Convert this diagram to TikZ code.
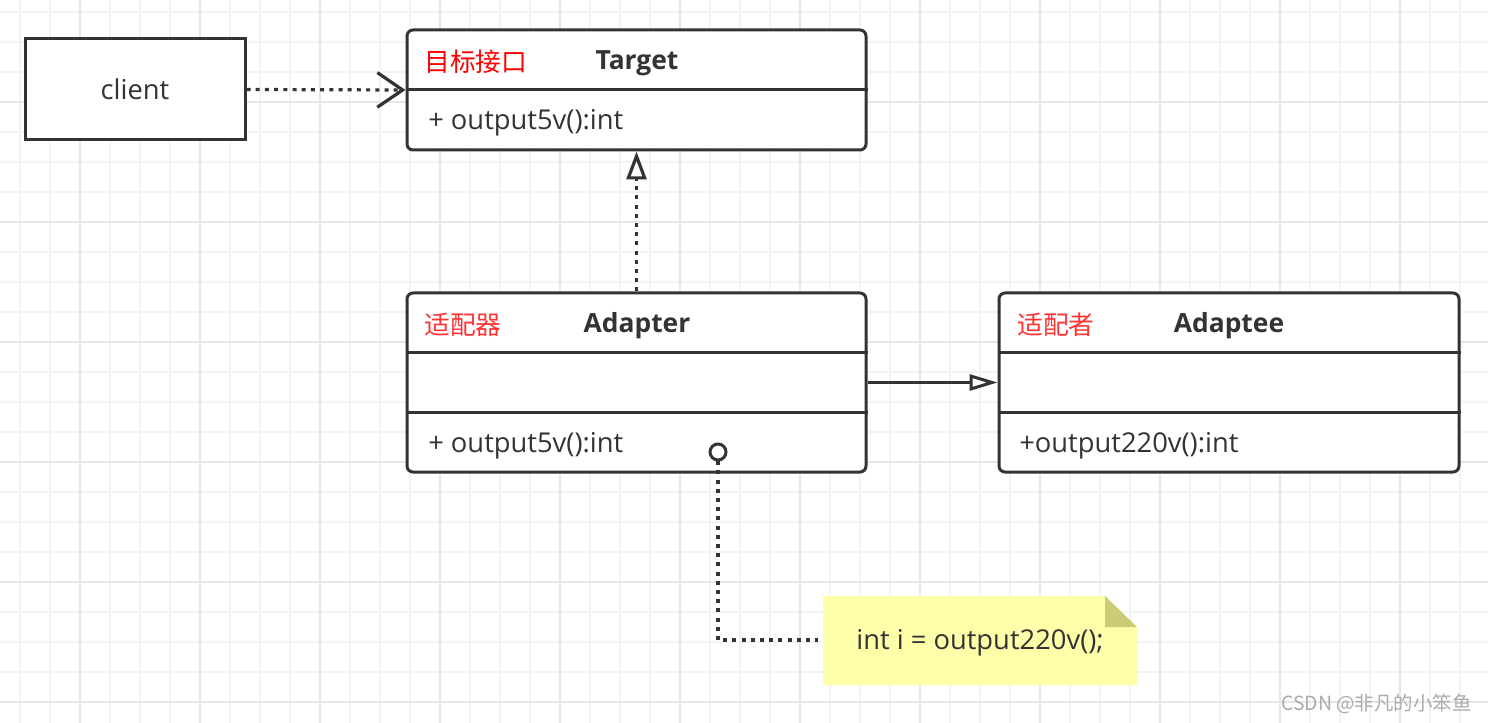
\documentclass[tikz,border=0pt]{standalone}
\usepackage{fontspec}
\setmainfont{Open Sans}
\newfontfamily\cjk{Noto Sans CJK SC}
\usetikzlibrary{arrows.meta}

\definecolor{inkgray}{HTML}{333333}
\definecolor{gridminor}{HTML}{F3F3F3}
\definecolor{gridmajor}{HTML}{E6E6E6}
\definecolor{notefill}{HTML}{FFFFAA}
\definecolor{notefold}{HTML}{CCCC77}
\definecolor{cnred}{HTML}{FF0000}
\definecolor{cnredsoft}{HTML}{FF3333}
\definecolor{markgray}{HTML}{ABABAB}

\begin{document}
\begin{tikzpicture}[x=0.75pt,y=-0.75pt,
    font=\fontsize{20.5}{24}\selectfont,
    plainbox/.style={draw=inkgray,line width=2.25pt,fill=white,inner sep=0pt,text=inkgray},
    classbox/.style={plainbox,rounded corners=4.5pt},
    divider/.style={draw=inkgray,line width=2.25pt},
    cnname/.style={anchor=west,inner sep=0pt,font=\cjk\fontsize{19.3}{23}\selectfont},
    enname/.style={inner sep=0pt,font=\bfseries\fontsize{19.8}{23}\selectfont,text=inkgray},
    member/.style={anchor=west,inner sep=0pt,text=inkgray},
    dep/.style={draw=inkgray,line width=2.4pt,dash pattern=on 3pt off 3.9pt},
    assoc/.style={draw=inkgray,line width=2.25pt}]
    \useasboundingbox (0,0) rectangle (1488,723);
    \fill[white] (0,0) rectangle (1488,723);

    % grid
    \foreach \gx in {20,50,...,1480} \draw[gridminor,line width=1.5pt] (\gx,0) -- (\gx,723);
    \foreach \gy in {12,42,...,720} \draw[gridminor,line width=1.5pt] (0,\gy) -- (1488,\gy);
    \foreach \gx in {80,200,...,1480} \draw[gridmajor,line width=1.5pt] (\gx,0) -- (\gx,723);
    \foreach \gy in {102,222,...,720} \draw[gridmajor,line width=1.5pt] (0,\gy) -- (1488,\gy);

    % client
    \node[plainbox,minimum width=165pt,minimum height=75.75pt] (client) at (135,89.5) {client};

    % Target
    \node[classbox,minimum width=344.25pt,minimum height=90pt] (target) at (636.5,90) {};
    \draw[divider] (target.west) -- (target.east);
    \node[cnname,text=cnred] (targetcn) at (424,62) {目标接口};
    \node[enname] (targetname) at (637,63) {Target};
    \node[member] (targetop) at (428,123) {+ output5v():int};

    % Adapter
    \node[classbox,minimum width=344.25pt,minimum height=134.25pt] (adapter) at (636.5,382.5) {};
    \draw[divider] ([yshift=22.5pt]adapter.west) -- ([yshift=22.5pt]adapter.east);
    \draw[divider] ([yshift=-22.5pt]adapter.west) -- ([yshift=-22.5pt]adapter.east);
    \node[cnname,text=cnredsoft] (adaptercn) at (424,325) {适配器};
    \node[enname] (adaptername) at (637,326) {Adapter};
    \node[member] (adapterop) at (428,446) {+ output5v():int};

    % Adaptee
    \node[classbox,minimum width=345pt,minimum height=134.25pt] (adaptee) at (1229,382.5) {};
    \draw[divider] ([yshift=22.5pt]adaptee.west) -- ([yshift=22.5pt]adaptee.east);
    \draw[divider] ([yshift=-22.5pt]adaptee.west) -- ([yshift=-22.5pt]adaptee.east);
    \node[cnname,text=cnredsoft] (adapteecn) at (1017,325) {适配者};
    \node[enname] (adapteename) at (1229,326) {Adaptee};
    \node[member] (adapteeop) at (1019,446) {+output220v():int};

    % note
    \fill[notefill] (823,596) -- (1105,596) -- (1137,627) -- (1137,685) -- (823,685) -- cycle;
    \fill[notefold] (1105,596) -- (1105,627) -- (1137,627) -- cycle;
    \node[inner sep=0pt,minimum width=235.5pt,minimum height=66.75pt,text=inkgray] (note) at (980,643) {int i = output220v();};

    % connectors
    \draw[dep,-{Straight Barb[length=19pt,width=26pt]}] (client.east) -- (target.west);
    \draw[dep,-{Triangle[fill=white,length=21pt,width=15pt]}] (adapter.north) -- (target.south);
    \draw[assoc,-{Triangle[fill=white,length=21pt,width=12pt]}] (adapter.east) -- (adaptee.west);
    \coordinate (knobc) at (718,452);
    \draw[dep,shorten >=3.75pt] (knobc) |- ([yshift=2.25pt]note.west);
    \node[circle,draw=inkgray,line width=2.25pt,fill=white,minimum size=12pt,inner sep=0pt] (knob) at (knobc) {};

    % watermark
    \node[anchor=east,inner sep=0pt,text=markgray,font=\cjk\fontsize{14.6}{18}\selectfont] (mark) at (1472,704) {CSDN @非凡的小笨鱼};
\end{tikzpicture}
\end{document}
